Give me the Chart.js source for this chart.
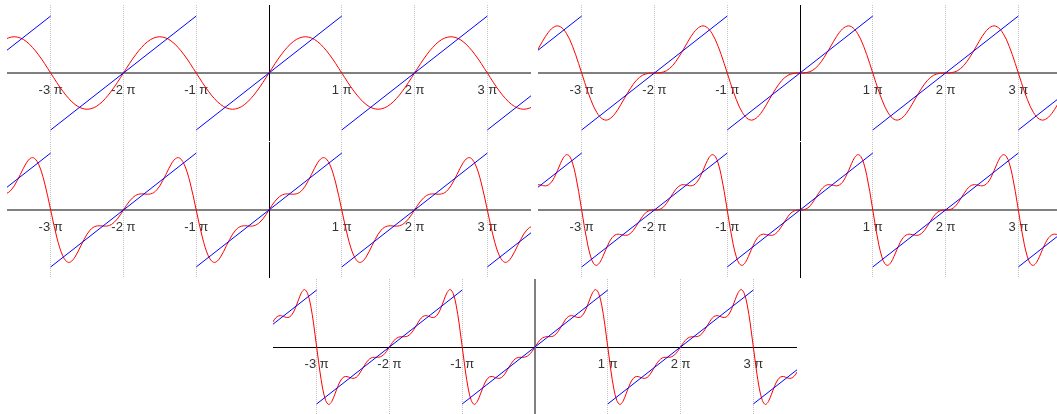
<!DOCTYPE html>
<html>
<head>
<meta charset="utf-8">
<script src="https://cdn.jsdelivr.net/npm/chart.js@4.4.1/dist/chart.umd.min.js"></script>
<style>
html, body { margin: 0; padding: 0; background: #fff; overflow: hidden; width: 1057px; height: 414px; }
canvas { position: absolute; }
</style>
</head>
<body>
<canvas id="terms1" width="524" height="136" style="left:7px;top:5px"></canvas>
<canvas id="terms2" width="524" height="136" style="left:538px;top:5px"></canvas>
<canvas id="terms3" width="524" height="136" style="left:7px;top:142px"></canvas>
<canvas id="terms4" width="524" height="136" style="left:538px;top:142px"></canvas>
<canvas id="terms5" width="524" height="136" style="left:273px;top:279px"></canvas>
<script>
// one period, -180 .. 180 degrees (x axis is in degrees, 180 = 1 pi)
var sampleDeg = [-180, -172.5, -165, -157.5, -150, -142.5, -135, -127.5, -120, -112.5, -105, -97.5,
  -90, -82.5, -75, -67.5, -60, -52.5, -45, -37.5, -30, -22.5, -15, -7.5,
  0, 7.5, 15, 22.5, 30, 37.5, 45, 52.5, 60, 67.5, 75, 82.5,
  90, 97.5, 105, 112.5, 120, 127.5, 135, 142.5, 150, 157.5, 165, 172.5, 180];

// red curve, partial sums with 1..5 terms
var sum1 = [0, -0.26, -0.52, -0.77, -1, -1.22, -1.41, -1.59, -1.73, -1.85, -1.93, -1.98,
  -2, -1.98, -1.93, -1.85, -1.73, -1.59, -1.41, -1.22, -1, -0.77, -0.52, -0.26,
  0, 0.26, 0.52, 0.77, 1, 1.22, 1.41, 1.59, 1.73, 1.85, 1.93, 1.98,
  2, 1.98, 1.93, 1.85, 1.73, 1.59, 1.41, 1.22, 1, 0.77, 0.52, 0.26, 0];
var sum2 = [0, -0.52, -1.02, -1.47, -1.87, -2.18, -2.41, -2.55, -2.6, -2.55, -2.43, -2.24,
  -2, -1.72, -1.43, -1.14, -0.87, -0.62, -0.41, -0.25, -0.13, -0.06, -0.02, 0,
  0, 0, 0.02, 0.06, 0.13, 0.25, 0.41, 0.62, 0.87, 1.14, 1.43, 1.72,
  2, 2.24, 2.43, 2.55, 2.6, 2.55, 2.41, 2.18, 1.87, 1.47, 1.02, 0.52, 0];
var sum3 = [0, -0.78, -1.49, -2.09, -2.53, -2.8, -2.89, -2.81, -2.6, -2.3, -1.96, -1.63,
  -1.33, -1.11, -0.96, -0.89, -0.87, -0.88, -0.89, -0.87, -0.8, -0.67, -0.49, -0.26,
  0, 0.26, 0.49, 0.67, 0.8, 0.87, 0.89, 0.88, 0.87, 0.89, 0.96, 1.11,
  1.33, 1.63, 1.96, 2.3, 2.6, 2.81, 2.89, 2.8, 2.53, 2.09, 1.49, 0.78, 0];
var sum4 = [0, -1.03, -1.92, -2.59, -2.97, -3.05, -2.89, -2.56, -2.17, -1.8, -1.53, -1.38,
  -1.33, -1.36, -1.39, -1.39, -1.3, -1.13, -0.89, -0.62, -0.37, -0.17, -0.06, -0.01,
  0, 0.01, 0.06, 0.17, 0.37, 0.62, 0.89, 1.13, 1.3, 1.39, 1.39, 1.36,
  1.33, 1.38, 1.53, 1.8, 2.17, 2.56, 2.89, 3.05, 2.97, 2.59, 1.92, 1.03, 0];
var sum5 = [0, -1.27, -2.31, -2.96, -3.17, -3, -2.6, -2.16, -1.82, -1.65, -1.63, -1.69,
  -1.73, -1.68, -1.5, -1.23, -0.95, -0.73, -0.6, -0.57, -0.57, -0.54, -0.44, -0.25,
  0, 0.25, 0.44, 0.54, 0.57, 0.57, 0.6, 0.73, 0.95, 1.23, 1.5, 1.68,
  1.73, 1.69, 1.63, 1.65, 1.82, 2.16, 2.6, 3, 3.17, 2.96, 2.31, 1.27, 0];

// blue sawtooth, one tooth per period
var sawDeg = [-180, 180];
var sawVal = [-3.1416, 3.1416];

var periodShifts = [-720, -360, 0, 360, 720];
var piLabels = ['-3 π', '-2 π', '-1 π', '', '1 π', '2 π', '3 π'];

Chart.defaults.font.family = '"Liberation Sans", Arial, sans-serif';
Chart.defaults.font.size = 13;

function tiled(values) {
  var pts = [];
  periodShifts.forEach(function (shift, k) {
    sampleDeg.forEach(function (deg, i) {
      if (k > 0 && i === 0) return;
      pts.push({x: deg + shift, y: values[i]});
    });
  });
  return pts;
}

function sawPoints() {
  var pts = [];
  periodShifts.forEach(function (shift) {
    pts.push({x: sawDeg[0] + shift, y: sawVal[0]});
    pts.push({x: sawDeg[1] + shift, y: sawVal[1]});
    pts.push({x: sawDeg[1] + shift, y: null});
  });
  return pts;
}

function makeChart(id, values, xAxisColor, xAxisWidth, yAxisColor, yAxisWidth) {
  return new Chart(document.getElementById(id), {
    type: 'line',
    data: {
      datasets: [{
        data: sawPoints(),
        borderColor: 'rgb(0, 0, 255)',
        borderWidth: 1,
        pointRadius: 0,
        spanGaps: false
      }, {
        data: tiled(values),
        borderColor: 'rgb(255, 0, 0)',
        borderWidth: 1,
        pointRadius: 0,
        tension: 0.33
      }]
    },
    options: {
      responsive: false,
      animation: false,
      layout: { padding: 0 },
      plugins: { legend: { display: false }, tooltip: { enabled: false } },
      scales: {
        x: {
          type: 'linear',
          min: -648,
          max: 648,
          position: { y: 0 },
          grid: { color: '#c4c4c4', drawTicks: false },
          border: { color: xAxisColor, width: xAxisWidth, dash: [1, 1] },
          ticks: {
            stepSize: 180,
            includeBounds: false,
            padding: 10,
            color: '#333',
            maxRotation: 0,
            autoSkip: false,
            callback: function (v) { return piLabels[Math.round(v / 180) + 3]; }
          }
        },
        y: {
          type: 'linear',
          min: -3.75,
          max: 3.75,
          position: { x: 0 },
          grid: { display: false },
          border: { color: yAxisColor, width: yAxisWidth },
          ticks: { display: false }
        }
      }
    }
  });
}

makeChart('terms1', sum1, '#808080', 2, '#000', 1);
makeChart('terms2', sum2, '#808080', 2, '#000', 1);
makeChart('terms3', sum3, '#808080', 2, '#000', 1);
makeChart('terms4', sum4, '#808080', 2, '#000', 1);
makeChart('terms5', sum5, '#000', 1, '#808080', 2);
</script>
</body>
</html>
